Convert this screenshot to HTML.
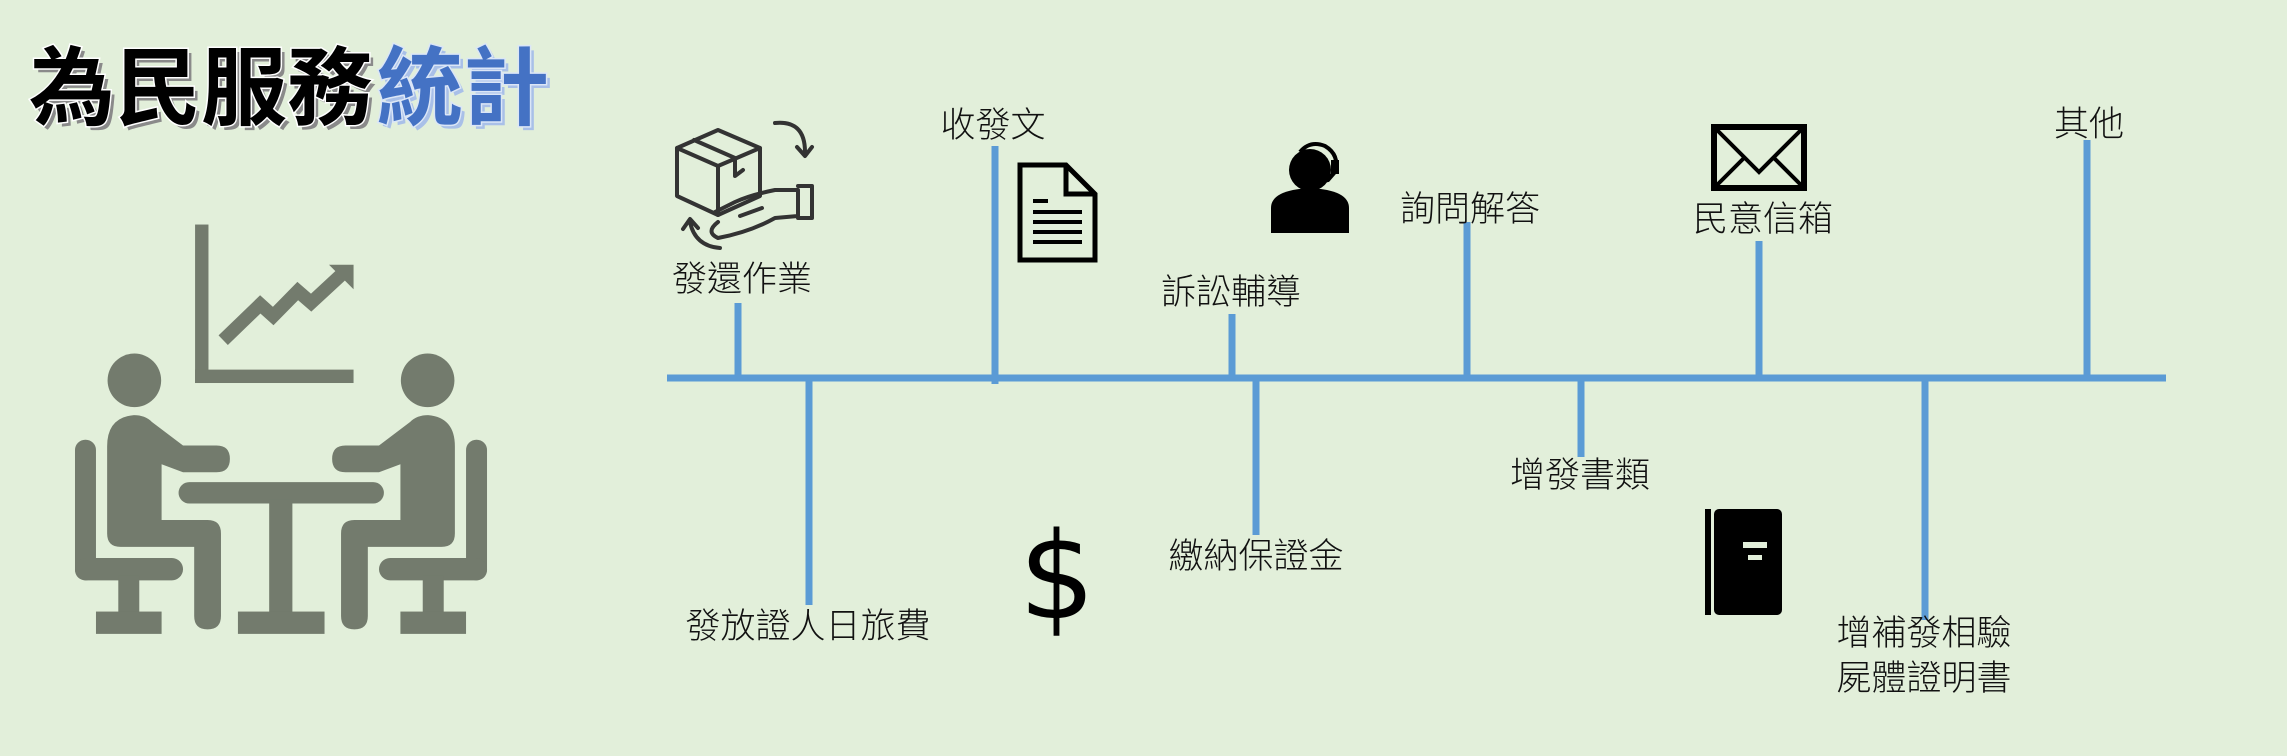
<!DOCTYPE html>
<html><head><meta charset="utf-8"><style>
html,body{margin:0;padding:0;background:#e2efda;}
svg{display:block}
.l{font-family:"Liberation Sans","Noto Sans CJK TC",sans-serif;font-size:35px;fill:#111;font-weight:300}
</style></head><body>
<svg width="2287" height="756" viewBox="0 0 2287 756" xmlns="http://www.w3.org/2000/svg">
<rect width="2287" height="756" fill="#e2efda"/>
<!-- title -->
<g font-family="'Liberation Sans','Noto Sans CJK TC',sans-serif" font-weight="700" font-size="86">
<text x="33" y="122" fill="#8a8a8a">為民服務</text>
<text x="29" y="118" fill="#000" stroke="#fff" stroke-width="3" paint-order="stroke">為民服務</text>
<text x="381" y="122" fill="#a9c0e8">統計</text>
<text x="377" y="118" fill="#4472c4" stroke="#dbe6f7" stroke-width="3" paint-order="stroke">統計</text>
</g>
<!-- people icon -->
<g transform="scale(0.4464)" fill="#737b6d">
<rect x="437" y="503" width="30" height="355"/>
<rect x="437" y="828" width="355" height="30"/>
<polyline points="500,762 583,682 612,708 667,652 697,678 765,615" fill="none" stroke="#737b6d" stroke-width="30"/>
<polygon points="737,593 792,593 792,648"/>
<g id="p">
<circle cx="301" cy="852" r="60"/>
<path d="M300 930 Q240 935 240 1000 L240 1195 Q240 1225 270 1225 L435 1225 L435 1380 Q435 1410 465 1410 Q495 1410 495 1380 L495 1195 Q495 1165 465 1165 L362 1165 L362 1040 L410 1058 L485 1058 Q515 1058 515 1028 Q515 998 485 998 L410 998 L340 945 Q325 930 300 930Z"/>
<rect x="168" y="985" width="47" height="315" rx="23"/>
<rect x="168" y="1250" width="242" height="50" rx="25"/>
<rect x="265" y="1290" width="47" height="90"/>
<rect x="215" y="1370" width="147" height="50"/>
</g>
<use href="#p" transform="translate(1259,0) scale(-1,1)"/>
<rect x="400" y="1080" width="460" height="48" rx="24"/>
<rect x="603" y="1120" width="52" height="260"/>
<rect x="533" y="1370" width="194" height="50"/>
</g>
<!-- timeline -->
<g stroke="#5b9bd5" stroke-width="7" fill="none">
<line x1="667" y1="378" x2="2166" y2="378"/>
<line x1="738" y1="303" x2="738" y2="378"/>
<line x1="995" y1="146" x2="995" y2="384"/>
<line x1="1232" y1="314" x2="1232" y2="378"/>
<line x1="1467" y1="222" x2="1467" y2="378"/>
<line x1="1759" y1="241" x2="1759" y2="378"/>
<line x1="2087" y1="140" x2="2087" y2="378"/>
<line x1="809" y1="378" x2="809" y2="605"/>
<line x1="1256" y1="378" x2="1256" y2="535"/>
<line x1="1581" y1="378" x2="1581" y2="457"/>
<line x1="1925" y1="378" x2="1925" y2="620"/>
</g>
<!-- labels -->
<g class="l" text-anchor="middle">
<text x="742" y="291" class="l">發還作業</text>
<text x="993" y="137" class="l">收發文</text>
<text x="1231" y="304" class="l">訴訟輔導</text>
<text x="1470" y="221" class="l">詢問解答</text>
<text x="1763" y="231" class="l">民意信箱</text>
<text x="2089" y="136" class="l">其他</text>
<text x="808" y="638" class="l">發放證人日旅費</text>
<text x="1256" y="568" class="l">繳納保證金</text>
<text x="1580" y="487" class="l">增發書類</text>
<text x="1924" y="645" class="l">增補發相驗</text>
<text x="1924" y="690" class="l">屍體證明書</text>
</g>
<!-- box/hand icon -->
<g fill="none" stroke="#333" stroke-width="4" stroke-linejoin="round" stroke-linecap="round">
<path d="M677 148 L718 130 L760 148 L760 196 L718 215 L677 196Z"/>
<path d="M677 148 L718 166 L760 148 M718 166 L718 215"/>
<path d="M694 140 L735 158 L735 176 L743 170"/>
<path d="M775 123 Q805 120 805 152 M797 147 L805 156 L812 147"/>
<path d="M718 222 Q705 232 718 238 Q750 232 775 218 L798 216 L798 190 L775 190 Q750 195 735 202 L715 212 M740 216 L762 208"/>
<path d="M798 186 L812 186 L812 218 L798 218"/>
<path d="M720 248 Q695 246 690 222 M683 229 L690 219 L698 228"/>
</g>
<!-- document -->
<g fill="none" stroke="#000" stroke-width="5">
<path d="M1020 165 L1066 165 L1095 194 L1095 260 L1020 260Z"/>
<path d="M1066 165 L1066 194 L1095 194"/>
</g>
<g stroke="#000" stroke-width="4">
<line x1="1033" y1="201" x2="1048" y2="201"/><line x1="1033" y1="212" x2="1082" y2="212"/>
<line x1="1033" y1="222" x2="1082" y2="222"/><line x1="1033" y1="232" x2="1082" y2="232"/>
<line x1="1033" y1="242" x2="1082" y2="242"/>
</g>
<!-- headset person -->
<g fill="#000">
<circle cx="1310" cy="170" r="21"/>
<path d="M1271 233 L1271 208 Q1271 190 1310 188 Q1349 190 1349 208 L1349 233Z"/>
</g>
<path d="M1300 152 Q1310 140 1325 146 Q1340 155 1335 172 L1328 180 L1318 182" fill="none" stroke="#000" stroke-width="4"/>
<rect x="1331" y="160" width="8" height="14" fill="#000"/>
<!-- envelope -->
<g fill="none" stroke="#000">
<rect x="1714" y="127" width="90" height="61" stroke-width="6"/>
<path d="M1717 130 L1759 172 L1801 130 M1717 185 L1745 157 M1801 185 L1773 157" stroke-width="4"/>
</g>
<!-- dollar -->
<text x="1057" y="618" text-anchor="middle" font-family="'DejaVu Sans',sans-serif" font-size="120" fill="#000">$</text>
<!-- book -->
<rect x="1705" y="509" width="6" height="106" fill="#000"/>
<rect x="1714" y="509" width="68" height="106" rx="5" fill="#000"/>
<rect x="1743" y="542" width="24" height="6" fill="#e2efda"/>
<rect x="1748" y="555" width="14" height="5" fill="#e2efda"/>
</svg>
</body></html>
